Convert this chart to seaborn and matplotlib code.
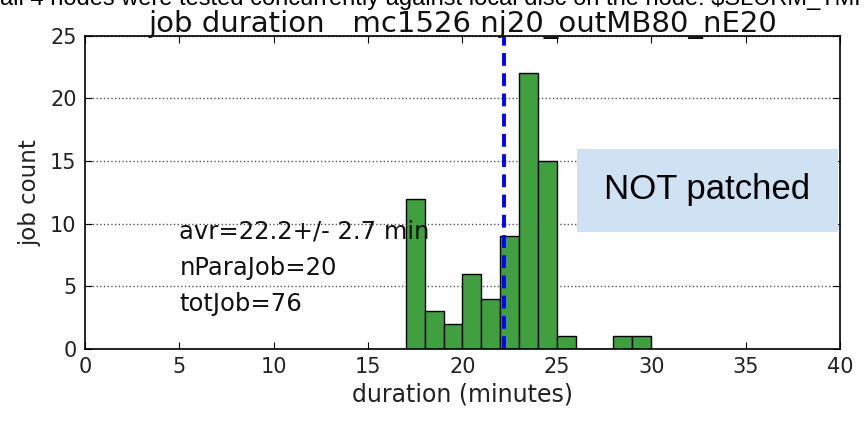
import matplotlib
matplotlib.use("Agg")
import matplotlib.pyplot as plt
import seaborn as sns
import numpy as np

# data
bin_left = [17, 18, 19, 20, 21, 22, 23, 24, 25, 26, 27, 28, 29]
counts = [12, 3, 2, 6, 4, 9, 22, 15, 1, 0, 0, 1, 1]
avr = 22.2
x_ticks = [0, 5, 10, 15, 20, 25, 30, 35, 40]
y_ticks = [0, 5, 10, 15, 20, 25]
title = "job duration   mc1526 nj20_outMB80_nE20"
stats_lines = ["avr=22.2+/- 2.7 min", "nParaJob=20", "totJob=76"]
stats_y = [9.4, 6.5, 3.6]
header = r"all 4 nodes were tested concurrently against local disc on the node: \$SLURM_TMPDIR"

sns.set_style("white")
plt.rcParams['font.family'] = ['DejaVu Sans']

fig = plt.figure(figsize=(8.66, 4.22), dpi=100)
ax = fig.add_axes([0.098, 0.173, 0.872, 0.742])

edges = list(bin_left) + [bin_left[-1] + 1]
sns.histplot(x=bin_left, weights=counts, bins=edges, ax=ax,
             color=(0.25, 0.627, 0.25), alpha=1.0, edgecolor="black", linewidth=1.0)

ax.axvline(avr, color="blue", linestyle="--", linewidth=2.8, dashes=(3.3, 1.9))

ax.set_xlim(0, 40)
ax.set_ylim(0, 25)
ax.set_xticks(x_ticks)
ax.set_yticks(y_ticks)
ax.tick_params(direction="in", length=5, labelsize=15, colors="black", pad=6,
               top=True, right=True, bottom=True, left=True)
for t in ax.get_xticklabels() + ax.get_yticklabels():
    t.set_color("#222222")
ax.yaxis.grid(True, linestyle=":", color="#555555", linewidth=1.0)
ax.xaxis.grid(False)
ax.set_axisbelow(True)
for s in ax.spines.values():
    s.set_color("black")
    s.set_linewidth(1.2)

ax.set_xlabel("duration (minutes)", fontsize=17, color="#222222", labelpad=4)
ax.set_ylabel("job count", fontsize=16.5, color="#222222", labelpad=6)
ax.set_title(title, fontsize=21, color="#111111", pad=3)

for txt, yv in zip(stats_lines, stats_y):
    ax.text(5.0, yv, txt, fontsize=17.5, color="#111111", va="center", ha="left")

# NOT patched box
fig.patches.append(plt.Rectangle((577 / 866, 1 - 232 / 422), (838 - 577) / 866, (232 - 149) / 422,
                                 transform=fig.transFigure, facecolor="#cfe2f3", edgecolor="none", zorder=5))
fig.text((577 + 838) / 2 / 866, 1 - 190 / 422, "NOT patched", fontsize=25,
         family=["Liberation Sans"], ha="center", va="center", color="black", zorder=6)

fig.text(0.0, 1 - 5 / 422, header, fontsize=17, family=["Liberation Sans"],
         ha="left", va="baseline", color="black")

fig.savefig("out.png", dpi=100)
